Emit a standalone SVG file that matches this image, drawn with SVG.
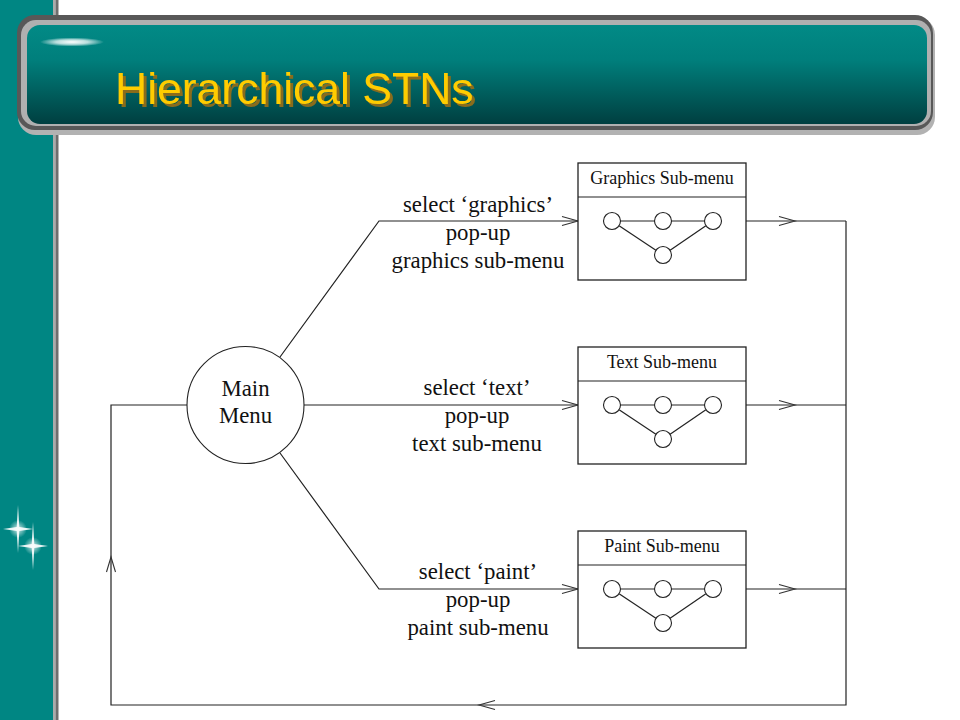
<svg xmlns="http://www.w3.org/2000/svg" width="960" height="720" viewBox="0 0 960 720">
  <defs>
    <linearGradient id="teal" x1="0" y1="0" x2="0" y2="1">
      <stop offset="0" stop-color="#028a86"/>
      <stop offset="0.35" stop-color="#007f7c"/>
      <stop offset="1" stop-color="#003f40"/>
    </linearGradient>
    <radialGradient id="gloss" cx="0.5" cy="0.5" r="0.5">
      <stop offset="0" stop-color="#ffffff" stop-opacity="1"/>
      <stop offset="0.5" stop-color="#e8f4f4" stop-opacity="0.8"/>
      <stop offset="1" stop-color="#ffffff" stop-opacity="0"/>
    </radialGradient>
    <radialGradient id="glow" cx="0.5" cy="0.5" r="0.5">
      <stop offset="0" stop-color="#ffffff" stop-opacity="1"/>
      <stop offset="0.4" stop-color="#ffffff" stop-opacity="0.6"/>
      <stop offset="1" stop-color="#ffffff" stop-opacity="0"/>
    </radialGradient>
    <filter id="shadow" x="-5%" y="-20%" width="110%" height="140%">
      <feOffset in="SourceAlpha" dx="3" dy="2.5" result="off"/>
      <feFlood flood-color="#8a6c1c"/>
      <feComposite in2="off" operator="in" result="sh"/>
      <feMerge>
        <feMergeNode in="sh"/>
        <feMergeNode in="SourceGraphic"/>
      </feMerge>
    </filter>
    <g id="mini">
      <line class="ln" x1="42.5" y1="0" x2="76.5" y2="0"/>
      <line class="ln" x1="93.5" y1="0" x2="126.5" y2="0"/>
      <line class="ln" x1="41.1" y1="4.7" x2="77.9" y2="29.3"/>
      <line class="ln" x1="127.9" y1="4.7" x2="92.1" y2="29.3"/>
      <circle class="nd" cx="34" cy="0" r="8.5"/>
      <circle class="nd" cx="85" cy="0" r="8.5"/>
      <circle class="nd" cx="135" cy="0" r="8.5"/>
      <circle class="nd" cx="85" cy="34" r="8.5"/>
    </g>
    <g id="star">
      <ellipse cx="0" cy="0" rx="9" ry="9" fill="url(#glow)" opacity="0.8"/>
      <polygon points="0,-24 1.3,-2 15,0 1.3,2 0,24 -1.3,2 -15,0 -1.3,-2" fill="#ffffff" opacity="0.9"/>
    </g>
  </defs>
  <style>
    .ln { stroke: #222; stroke-width: 1.2; fill: none; }
    .nd { stroke: #222; stroke-width: 1.1; fill: #ffffff; }
    .box { stroke: #222; stroke-width: 1.3; fill: #ffffff; }
    .ah { stroke: #333; stroke-width: 1.1; fill: none; }
    .lbl { font-family: "Liberation Serif", "Times New Roman", serif; font-size: 22.8px; fill: #111; text-anchor: middle; }
    .ttl { font-family: "Liberation Serif", "Times New Roman", serif; font-size: 18px; fill: #111; text-anchor: middle; }
    .title { font-family: "Liberation Sans", Arial, sans-serif; font-size: 44.5px; }
  </style>

  <!-- background -->
  <rect x="0" y="0" width="960" height="720" fill="#ffffff"/>
  <rect x="0" y="0" width="53" height="720" fill="#008683"/>
  <rect x="53" y="0" width="2.5" height="720" fill="#ababab"/>
  <rect x="55.5" y="0" width="3" height="720" fill="#6e6e6e"/>
  <use href="#star" x="18" y="529"/>
  <use href="#star" x="33" y="546"/>

  <!-- title banner -->
  <g id="banner">
    <rect x="18" y="17" width="917" height="118" rx="18" fill="#b2b2b2"/>
    <rect x="17" y="15" width="916" height="115" rx="18" fill="#585858"/>
    <rect x="21" y="20" width="910" height="106" rx="15" fill="#b0b0b0"/>
    <rect x="27" y="25" width="900" height="99" rx="13" fill="url(#teal)"/>
    <ellipse cx="72" cy="42" rx="32" ry="4.5" fill="url(#gloss)"/>
    <text class="title" x="115" y="104" fill="#ffcc00" filter="url(#shadow)">Hierarchical STNs</text>
  </g>

  <!-- connectors -->
  <g id="connectors">
    <polyline class="ln" points="280,357 379,221 578,221"/>
    <line class="ln" x1="304" y1="405" x2="578" y2="405"/>
    <polyline class="ln" points="280,453 379,589 578,589"/>
    <line class="ln" x1="746" y1="221" x2="846" y2="221"/>
    <line class="ln" x1="746" y1="405" x2="846" y2="405"/>
    <line class="ln" x1="746" y1="589" x2="846" y2="589"/>
    <polyline class="ln" points="846,221 846,705 111,705 111,405 187,405"/>
    <!-- arrowheads -->
    <polyline class="ah" points="562,216.5 578,221 562,225.5"/>
    <polyline class="ah" points="562,400.5 578,405 562,409.5"/>
    <polyline class="ah" points="562,584.5 578,589 562,593.5"/>
    <polyline class="ah" points="779,216.5 795,221 779,225.5"/>
    <polyline class="ah" points="779,400.5 795,405 779,409.5"/>
    <polyline class="ah" points="779,584.5 795,589 779,593.5"/>
    <polyline class="ah" points="495,700.5 479,705 495,709.5"/>
    <polyline class="ah" points="106.5,572 111,557 115.5,572"/>
    <!-- labels -->
    <text class="lbl" x="478" y="212">select ‘graphics’</text>
    <text class="lbl" x="478" y="240">pop-up</text>
    <text class="lbl" x="478" y="268">graphics sub-menu</text>
    <text class="lbl" x="477" y="395">select ‘text’</text>
    <text class="lbl" x="477" y="423">pop-up</text>
    <text class="lbl" x="477" y="451">text sub-menu</text>
    <text class="lbl" x="478" y="579">select ‘paint’</text>
    <text class="lbl" x="478" y="607">pop-up</text>
    <text class="lbl" x="478" y="635">paint sub-menu</text>
  </g>

  <!-- main menu node -->
  <g id="main-menu">
    <circle cx="245.5" cy="405" r="58.5" class="nd"/>
    <text class="lbl" x="245.5" y="396">Main</text>
    <text class="lbl" x="245.5" y="423">Menu</text>
  </g>

  <!-- submenus -->
  <g id="graphics-submenu" transform="translate(578,163)">
    <rect class="box" x="0" y="0" width="168" height="117"/>
    <line class="ln" x1="0" y1="34" x2="168" y2="34"/>
    <text class="ttl" x="84" y="21">Graphics Sub-menu</text>
    <use href="#mini" x="0" y="58"/>
  </g>
  <g id="text-submenu" transform="translate(578,347)">
    <rect class="box" x="0" y="0" width="168" height="117"/>
    <line class="ln" x1="0" y1="34" x2="168" y2="34"/>
    <text class="ttl" x="84" y="21">Text Sub-menu</text>
    <use href="#mini" x="0" y="58"/>
  </g>
  <g id="paint-submenu" transform="translate(578,531)">
    <rect class="box" x="0" y="0" width="168" height="117"/>
    <line class="ln" x1="0" y1="34" x2="168" y2="34"/>
    <text class="ttl" x="84" y="21">Paint Sub-menu</text>
    <use href="#mini" x="0" y="58"/>
  </g>
</svg>
